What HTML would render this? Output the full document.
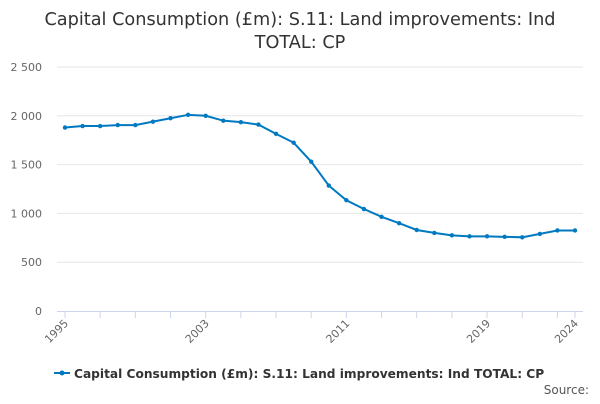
<!DOCTYPE html>
<html><head><meta charset="utf-8"><style>
body{margin:0;background:#fff;font-family:"DejaVu Sans","Liberation Sans",sans-serif}
svg text{font-family:"DejaVu Sans","Liberation Sans",sans-serif}
</style></head><body>
<svg width="600" height="400" xmlns="http://www.w3.org/2000/svg">
<text x="300" y="25" text-anchor="middle" font-size="17.7" fill="#333">Capital Consumption (£m): S.11: Land improvements: Ind</text>
<text x="300" y="48" text-anchor="middle" font-size="17.7" fill="#333">TOTAL: CP</text>
<g id="grid"></g><g id="ylab"></g><g id="xax"></g><g id="series"></g>
<g>
<line x1="54" y1="373" x2="70" y2="373" stroke="#0079c1" stroke-width="2"/>
<circle cx="62" cy="373" r="2.5" fill="#0079c1"/>
<text x="74" y="378" font-size="12.2" font-weight="bold" fill="#333">Capital Consumption (£m): S.11: Land improvements: Ind TOTAL: CP</text>
</g>
<text x="589" y="394" text-anchor="end" font-size="12" fill="#555">Source:</text>
</svg>
<script>
const years=[1995,1996,1997,1998,1999,2000,2001,2002,2003,2004,2005,2006,2007,2008,2009,2010,2011,2012,2013,2014,2015,2016,2017,2018,2019,2020,2021,2022,2023,2024];
const values=[1880,1895,1895,1905,1905,1940,1975,2010,2000,1950,1935,1910,1815,1725,1530,1285,1135,1045,965,900,830,800,775,765,765,760,755,790,825,825];
const yTicks=[0,500,1000,1500,2000,2500];
const yTickLabels=["0","500","1 000","1 500","2 000","2 500"];
const xLabels=[1995,2003,2011,2019,2024];
const NS="http://www.w3.org/2000/svg";
const X=y=>65+(y-1995)*(575-65)/29;
const Y=v=>311-v*(311-67)/2500;
function mk(t,a,p){const e=document.createElementNS(NS,t);for(const k in a)e.setAttribute(k,a[k]);p.appendChild(e);return e;}
const g=document.getElementById('grid'),yl=document.getElementById('ylab'),xa=document.getElementById('xax'),s=document.getElementById('series');
yTicks.forEach((v,i)=>{
 if(v>0){const l=mk('line',{x1:57,x2:583,y1:Y(v),y2:Y(v),stroke:'#e6e6e6'},g);
 
 }
 const t=mk('text',{x:42,y:Y(v)+4,'text-anchor':'end','font-size':11,fill:'#666'},yl);t.textContent=yTickLabels[i];
 
 
});
const ax=mk('line',{x1:57,x2:583,y1:311.5,y2:311.5,stroke:'#ccd6eb'},xa);


for(let y=1995;y<=2024;y+=2){mk('line',{x1:X(y),x2:X(y),y1:311,y2:318,stroke:'#ccd6eb'},xa);}
mk('line',{x1:X(2024),x2:X(2024),y1:311,y2:318,stroke:'#ccd6eb'},xa);
xLabels.forEach(y=>{const t=mk('text',{x:X(y)+4,y:324,'text-anchor':'end','font-size':11,fill:'#666',transform:`rotate(-45 ${X(y)+4} 324)`},xa);t.textContent=y;
 
 });
const pts=years.map((y,i)=>X(y)+','+Y(values[i])).join(' ');
const pl=mk('polyline',{points:pts,fill:'none',stroke:'#0079c1','stroke-width':2},s);


years.forEach((y,i)=>{const c=mk('circle',{cx:X(y),cy:Y(values[i]),r:2.2,fill:'#0079c1'},s);
 
 });
</script>
</body></html>
